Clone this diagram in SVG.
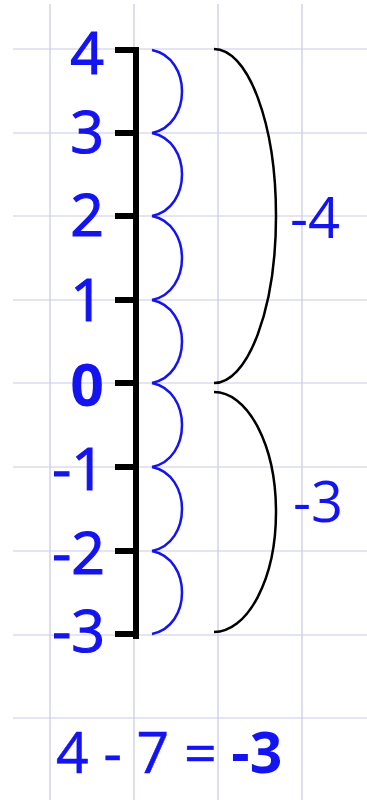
<svg xmlns="http://www.w3.org/2000/svg" width="367" height="800" viewBox="0 0 367 800">
<style>
.grid{stroke:#c9c9e8;stroke-width:1.2;fill:none}
.axis{stroke:#000;stroke-width:6;fill:none}
.tick{stroke:#000;stroke-width:6;fill:none}
.hop{stroke:#1414f0;stroke-width:2.5;fill:none}
.brace{stroke:#000;stroke-width:2.5;fill:none}
.lbl{font-family:"Open Sans","Liberation Sans",sans-serif;font-size:59px;fill:#1414f0;stroke:#1414f0;stroke-width:1.2;text-anchor:end}
.side{font-family:"Open Sans","Liberation Sans",sans-serif;font-size:56px;fill:#1414f0}
.eq{font-family:"Open Sans","Liberation Sans",sans-serif;font-size:57px;fill:#1414f0;stroke:#1414f0;stroke-width:0.6}
</style>
<rect width="367" height="800" fill="#fff"/>
<g id="grid" class="grid">
<path d="M50,4V800M134,4V800M218,4V800M302,4V800"/>
<path d="M13,49H367M13,133H367M13,216H367M13,300H367M13,383H367M13,467H367M13,551H367M13,635H367M13,718H367"/>
</g>
<g id="numberline">
<path class="axis" d="M136,47V639"/>
<path class="tick" d="M115,50H136M115,133H136M115,216H136M115,300H136M115,383H136M115,467H136M115,551H136M115,634H136"/>
</g>
<g id="labels" class="lbl">
<text x="104" y="74">4</text>
<text x="104" y="153">3</text>
<text x="104" y="236">2</text>
<text x="104" y="321">1</text>
<text x="104" y="406" font-weight="bold" stroke-width="0">0</text>
<text x="105" y="490">-1</text>
<text x="105" y="574">-2</text>
<text x="105" y="652">-3</text>
</g>
<g id="connectors">
<g id="hops" class="hop">
<path d="M152,50C192,58 192,125 152,133"/>
<path d="M152,133C192,141 192,208 152,216"/>
<path d="M152,216C192,224 192,292 152,300"/>
<path d="M152,300C192,308 192,375 152,383"/>
<path d="M152,383C192,391 192,459 152,467"/>
<path d="M152,467C192,475 192,543 152,551"/>
<path d="M152,551C192,559 192,626 152,634"/>
</g>
<g id="braces" class="brace">
<path d="M214,49A62,167 0 0 1 214,383"/>
<path d="M214,392A62,120 0 0 1 214,632"/>
</g>
</g>
<g id="minus4"><text class="side" x="290" y="238">-4</text></g>
<g id="minus3"><text class="side" x="293" y="522">-3</text></g>
<g id="equation"><text class="eq" x="56" y="773">4 - 7 = <tspan font-weight="bold" stroke-width="0">-3</tspan></text></g>
</svg>
